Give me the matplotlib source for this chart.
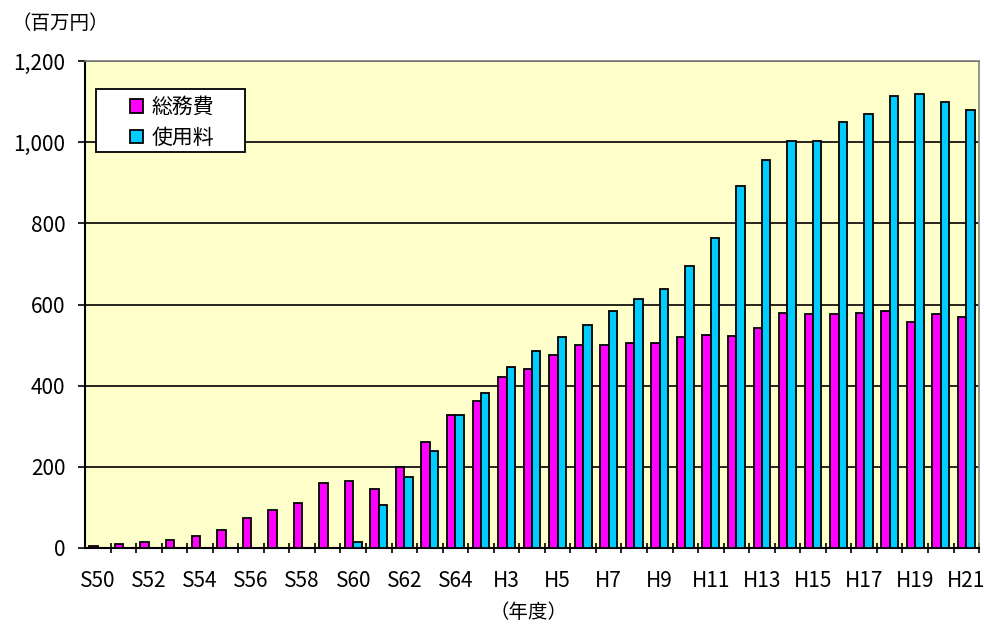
import numpy as np
import matplotlib
matplotlib.use("Agg")
from matplotlib import pyplot as plt
from matplotlib.patches import Rectangle

plt.rcParams['font.family'] = ['Noto Sans CJK JP', 'DejaVu Sans']

# 年度 (S50〜S64, H2〜H21)
nendo = ["S%d" % y for y in range(50, 65)] + ["H%d" % y for y in range(2, 22)]

# 総務費 (百万円)
somuhi = [5, 10, 15, 20, 30, 44, 74, 93, 112, 160, 166, 146, 200, 260, 328,
          362, 421, 441, 475, 501, 500, 506, 506, 520, 526, 522, 542, 580,
          576, 576, 580, 585, 556, 576, 570]

# 使用料 (百万円)
shiyoryo = [0, 0, 0, 0, 0, 0, 0, 0, 0, 0, 15, 107, 175, 239, 328,
            382, 446, 486, 520, 550, 585, 614, 638, 694, 764, 892, 955, 1004,
            1004, 1049, 1069, 1113, 1119, 1098, 1079]

# ラベルを付ける年度
label_nendo = ["S50", "S52", "S54", "S56", "S58", "S60", "S62", "S64",
               "H3", "H5", "H7", "H9", "H11", "H13", "H15", "H17", "H19", "H21"]

fig = plt.figure(figsize=(9.84, 6.24), dpi=100)
ax = fig.add_axes([0.0864, 0.1218, 0.9086, 0.7804])
ax.set_facecolor("#FFFFCC")

x = np.arange(len(nendo))
w = 0.33
ax.bar(x - w / 2, somuhi, w, color="#FF00FF", edgecolor="black", linewidth=1.3,
       label="総務費", zorder=3)
ax.bar(x + w / 2, shiyoryo, w, color="#00CCFF", edgecolor="black", linewidth=1.3,
       label="使用料", zorder=3)

ax.set_xlim(-0.5, len(nendo) - 0.5)
ax.set_ylim(0, 1200)
ax.set_yticks(range(0, 1201, 200))
ax.set_yticklabels(["{:,}".format(v) for v in range(0, 1201, 200)], fontsize=15)
ax.yaxis.grid(True, color="black", linewidth=1.2, zorder=1)
ax.set_axisbelow(True)

# 目盛り線は年度の境目、ラベルは中央
ax.set_xticks(x + 0.5, minor=True)
ax.set_xticks([nendo.index(n) for n in label_nendo])
ax.set_xticklabels(label_nendo, fontsize=15)
ax.xaxis.set_tick_params(which="major", length=0, pad=16)
ax.xaxis.set_tick_params(which="minor", length=7, width=1.2, direction="inout")
ax.yaxis.set_tick_params(length=5, width=1.2, pad=9)

for s in ["left", "bottom"]:
    ax.spines[s].set_linewidth(1.5)
    ax.spines[s].set_color("black")
for s in ["top", "right"]:
    ax.spines[s].set_linewidth(1.2)
    ax.spines[s].set_color("#808080")

# 凡例の枠
ax.add_patch(Rectangle((0.0123, 0.813), 0.1667, 0.129, transform=ax.transAxes,
                       facecolor="white", edgecolor="black", linewidth=1.3,
                       zorder=4))
leg = ax.legend(loc="upper left", bbox_to_anchor=(0.0503, 0.928), fontsize=15,
                frameon=False, handlelength=0.62, handleheight=0.62,
                handletextpad=0.4, borderpad=0, labelspacing=0.42,
                borderaxespad=0)
leg.set_zorder(5)

fig.text(0.012, 0.962, "（百万円）", fontsize=14, va="center", ha="left")
fig.text(0.537, 0.018, "（年度）", fontsize=14, va="center", ha="center")

fig.savefig("out.png", dpi=100)
